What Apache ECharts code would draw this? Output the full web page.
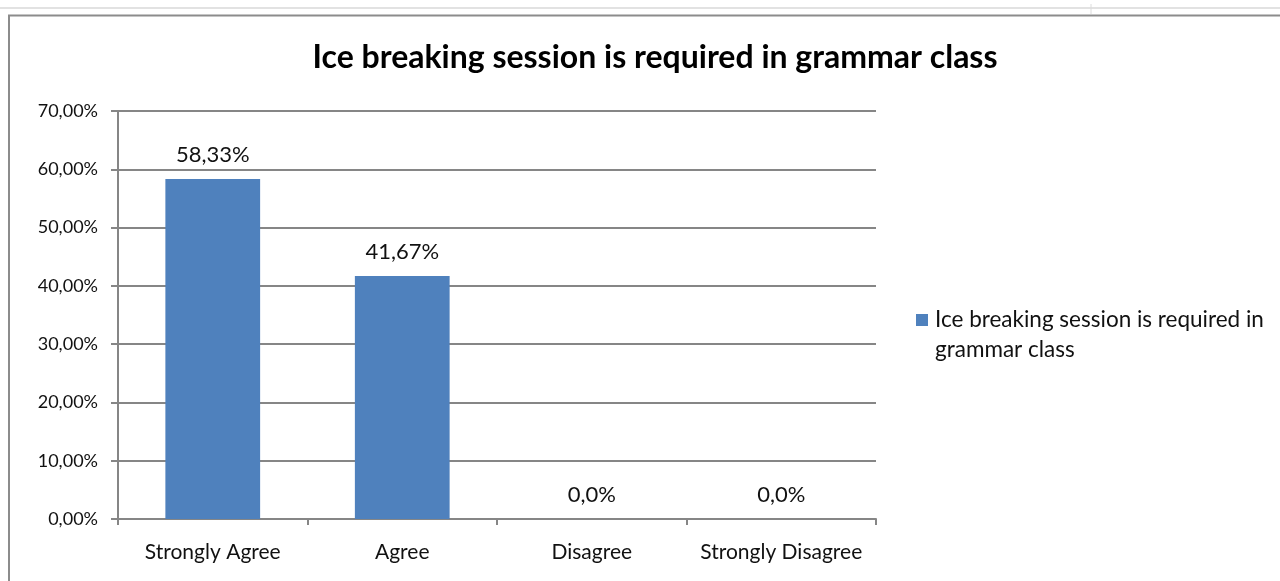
<!DOCTYPE html>
<html>
<head>
<meta charset="utf-8">
<script src="https://cdn.jsdelivr.net/npm/echarts@6/dist/echarts.min.js"></script>
<style>
html,body{margin:0;padding:0;background:#fff;}
#chart{width:1280px;height:581px;}
</style>
</head>
<body>
<div id="chart"></div>
<script>
const titleText = 'Ice breaking session is required in grammar class';
const seriesName = 'Ice breaking session is required in grammar class';
const categories = ['Strongly Agree', 'Agree', 'Disagree', 'Strongly Disagree'];
const values = [58.33, 41.67, 0, 0];
const yMin = 0, yMax = 70, yInterval = 10;

const fontFam = 'Lato, "Open Sans", sans-serif';
const chart = echarts.init(document.getElementById('chart'), null, {renderer: 'canvas'});
chart.setOption({
  animation: false,
  backgroundColor: '#fff',
  title: {
    text: titleText,
    left: 650, top: 37, textAlign: 'center',
    textStyle: {fontFamily: fontFam, fontSize: 32, fontWeight: 'bold', color: '#000'}
  },
  legend: {
    left: 916, top: 305, padding: 0,
    orient: 'vertical',
    icon: 'path://M0,0h12v12h-12z M0,42L0.01,42',
    itemWidth: 12, itemHeight: 42, itemGap: 6,
    formatter: function (n) { return n.replace(' in ', ' in\n'); },
    textStyle: {fontFamily: fontFam, fontSize: 22.5, color: '#111', lineHeight: 30, padding: [0, 0, 0, 2]}
  },
  graphic: [
    {type: 'line', shape: {x1: 0, y1: 8, x2: 1280, y2: 8}, style: {stroke: '#e2e2e2', lineWidth: 2}, silent: true},
    {type: 'line', shape: {x1: 1091, y1: 4, x2: 1091, y2: 14}, style: {stroke: '#dcdcdc', lineWidth: 1}, silent: true},
    {type: 'rect', shape: {x: 9, y: 15.5, width: 1300, height: 600}, style: {fill: 'none', stroke: '#8c8c8c', lineWidth: 2}, silent: true}
  ],
  grid: {left: 118, right: 404, top: 111, bottom: 62, containLabel: false},
  xAxis: {
    type: 'category',
    data: categories,
    axisLine: {lineStyle: {color: '#868686', width: 2}},
    axisTick: {show: true, length: 6, lineStyle: {color: '#868686', width: 2}},
    axisLabel: {fontFamily: fontFam, fontSize: 21, color: '#111', margin: 23, interval: 0}
  },
  yAxis: {
    type: 'value',
    min: yMin, max: yMax, interval: yInterval,
    axisLine: {show: true, lineStyle: {color: '#868686', width: 2}},
    axisTick: {show: true, length: 7, lineStyle: {color: '#868686', width: 2}},
    splitLine: {lineStyle: {color: '#868686', width: 2}},
    axisLabel: {
      fontFamily: fontFam, fontSize: 18, color: '#111', margin: 20,
      formatter: function (v) { return v.toFixed(2).replace('.', ',') + '%'; }
    }
  },
  series: [{
    name: seriesName,
    type: 'bar',
    data: values,
    barWidth: '50%',
    itemStyle: {color: '#4f81bd'},
    label: {
      show: true, position: 'top', distance: 13,
      fontFamily: fontFam, fontSize: 22, color: '#111',
      formatter: function (p) { return p.value.toFixed(p.value === 0 ? 1 : 2).replace('.', ',') + '%'; }
    }
  }]
});
</script>
</body>
</html>
